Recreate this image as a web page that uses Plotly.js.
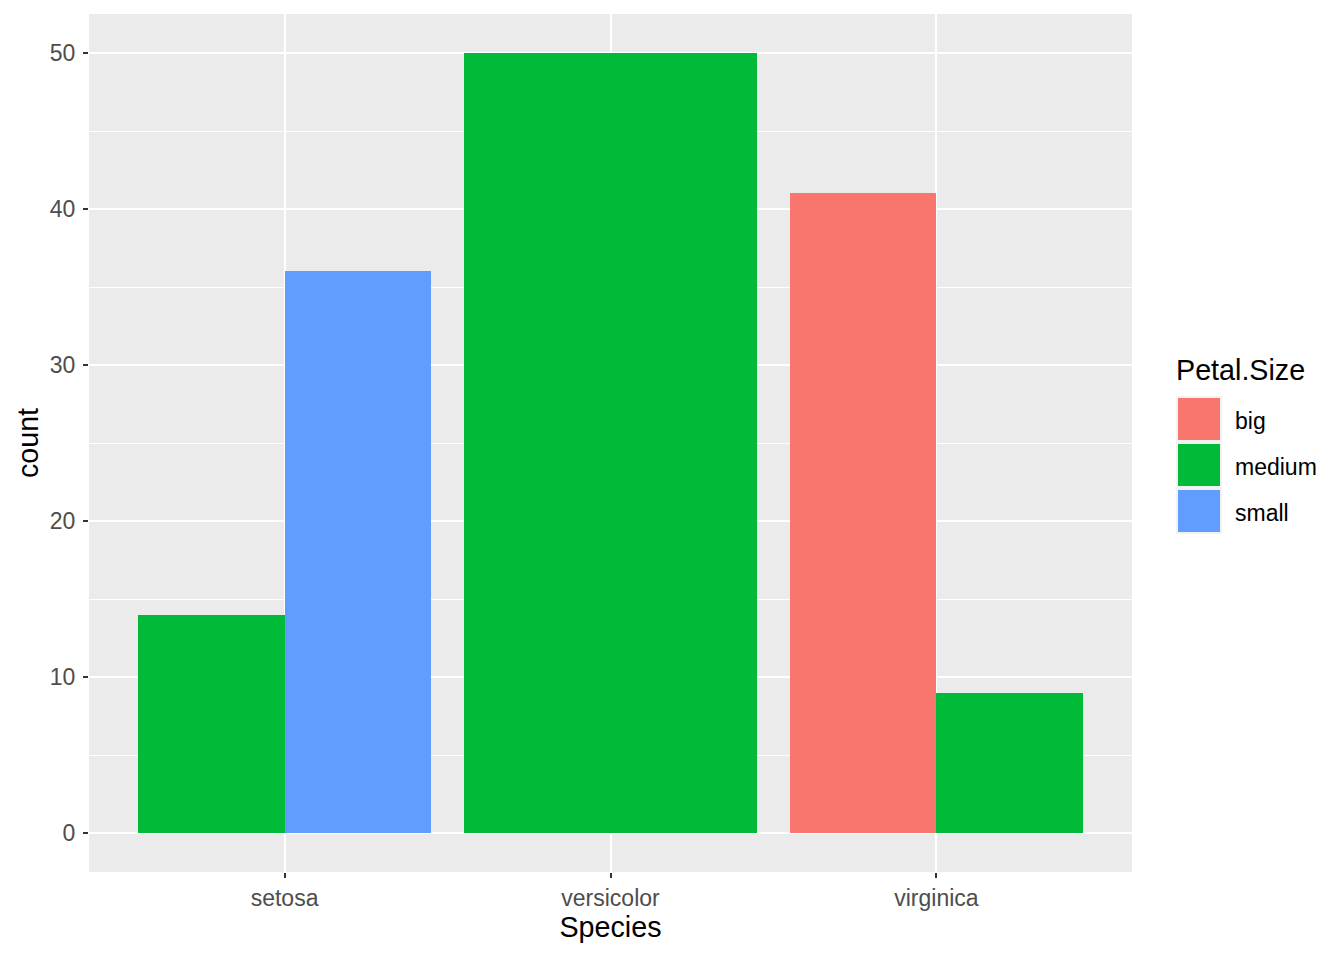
<!DOCTYPE html>
<html>
<head>
<meta charset="utf-8">
<script src="https://cdn.plot.ly/plotly-3.0.1.min.js"></script>
<style>html,body{margin:0;padding:0;background:#fff;}#chart{width:1344px;height:960px;}</style>
</head>
<body>
<div id="chart"></div>
<script>
const species = ['setosa', 'versicolor', 'virginica'];
const sizes = ['big', 'medium', 'small'];
const bigCounts = [0, 0, 41];
const mediumCounts = [14, 50, 9];
const smallCounts = [36, 0, 0];
const colors = ['#F8766D', '#00BA38', '#619CFF'];
const yTicks = [0, 10, 20, 30, 40, 50];

const countsBySize = [bigCounts, mediumCounts, smallCounts];
const FONT = 'Liberation Sans, Arial, sans-serif';
const totalWidth = 0.9;
const TICK_SIZE = 23;
const TITLE_SIZE = 28.7;

// ggplot-like dodge: split width among groups present at each category
const traces = sizes.map((s, si) => {
  const xs = [], ys = [], offs = [], ws = [];
  species.forEach((sp, ci) => {
    const present = sizes.map((_, k) => countsBySize[k][ci] > 0);
    const n = present.filter(Boolean).length;
    if (!present[si]) return;
    const rank = present.slice(0, si).filter(Boolean).length;
    const w = totalWidth / n;
    xs.push(ci + 1);
    ys.push(countsBySize[si][ci]);
    offs.push(-totalWidth / 2 + rank * w);
    ws.push(w);
  });
  return {
    type: 'bar', name: s, x: xs, y: ys, offset: offs, width: ws,
    marker: {color: colors[si], line: {width: 0}}, showlegend: false
  };
});

const L = 89, R = 1132, T = 14, B = 872;
const px = x => (x - L) / (R - L);
const py = y => (B - y) / (B - T);

const shapes = [];
const annotations = [];
// legend
annotations.push({xref: 'paper', yref: 'paper', x: px(1174), y: py(370), xanchor: 'left', yanchor: 'middle',
  text: 'Petal.Size', showarrow: false, font: {family: FONT, size: TITLE_SIZE, color: '#000'}});
sizes.forEach((s, i) => {
  const top = 396 + i * 46;
  shapes.push({type: 'rect', xref: 'paper', yref: 'paper', x0: px(1176), x1: px(1222), y0: py(top), y1: py(top + 46),
    fillcolor: '#F2F2F2', line: {width: 0}, layer: 'above'});
  shapes.push({type: 'rect', xref: 'paper', yref: 'paper', x0: px(1178), x1: px(1220), y0: py(top + 2), y1: py(top + 44),
    fillcolor: colors[i], line: {width: 0}, layer: 'above'});
  annotations.push({xref: 'paper', yref: 'paper', x: px(1233), y: py(top + 25), xanchor: 'left', yanchor: 'middle',
    text: s, showarrow: false, font: {family: FONT, size: TICK_SIZE, color: '#000'}});
});

const layout = {
  width: 1344, height: 960,
  margin: {l: L, r: 1344 - R, t: T, b: 960 - B, pad: 0},
  paper_bgcolor: '#FFFFFF', plot_bgcolor: '#EBEBEB',
  barmode: 'overlay', bargap: 0,
  font: {family: FONT},
  showlegend: false,
  xaxis: {
    range: [0.4, 3.6], tickvals: [1, 2, 3], ticktext: species,
    showgrid: true, gridcolor: '#FFFFFF', gridwidth: 2, zeroline: false,
    ticks: 'outside', ticklen: 5, tickwidth: 2, tickcolor: '#333333',
    tickfont: {family: FONT, size: TICK_SIZE, color: '#4D4D4D'},
    showline: false, fixedrange: true,
    title: {text: 'Species', font: {family: FONT, size: TITLE_SIZE, color: '#000'}, standoff: 6}
  },
  yaxis: {
    range: [-2.5, 52.5], tickvals: yTicks, ticktext: yTicks.map(String),
    showgrid: true, gridcolor: '#FFFFFF', gridwidth: 2, zeroline: false,
    minor: {tickvals: [5, 15, 25, 35, 45], showgrid: true, gridcolor: '#FFFFFF', gridwidth: 1, ticks: ''},
    ticks: 'outside', ticklen: 5, tickwidth: 2, tickcolor: '#333333',
    ticklabelstandoff: 3,
    tickfont: {family: FONT, size: TICK_SIZE, color: '#4D4D4D'},
    showline: false, fixedrange: true,
    title: {text: 'count', font: {family: FONT, size: TITLE_SIZE, color: '#000'}, standoff: 2}
  },
  shapes: shapes,
  annotations: annotations
};

Plotly.newPlot('chart', traces, layout, {displayModeBar: false, staticPlot: true});
</script>
</body>
</html>
